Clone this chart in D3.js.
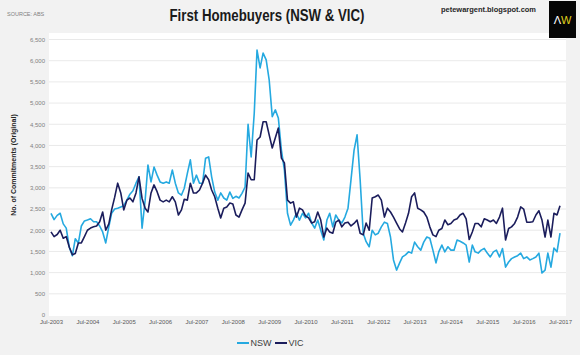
<!DOCTYPE html>
<html><head><meta charset="utf-8">
<script src="https://cdn.jsdelivr.net/npm/d3@7"></script>
<style>
html,body{margin:0;padding:0;background:#f2f2f2;}
svg{display:block;font-family:"Liberation Sans",Arial,sans-serif;}
</style></head>
<body><svg id="c" width="580" height="355"></svg>
<script>
// ---- data ----
const startMonth = new Date(2003, 6, 1);   // Jul-2003
const seriesNames = ["NSW", "VIC"];
const seriesColors = ["#25a9e0", "#1b1d5c"];
const yTicks = [0,500,1000,1500,2000,2500,3000,3500,4000,4500,5000,5500,6000,6500];
const xTickLabels = ["Jul-2003","Jul-2004","Jul-2005","Jul-2006","Jul-2007","Jul-2008","Jul-2009","Jul-2010","Jul-2011","Jul-2012","Jul-2013","Jul-2014","Jul-2015","Jul-2016","Jul-2017"];
const nsw = [
2400,2250,2350,2400,2150,2050,1600,1400,1800,1700,2100,2220,
2240,2270,2200,2200,2100,1960,1700,2080,2400,2500,2520,2550,
2580,2710,2850,2930,3110,3260,2050,2710,3540,3140,3490,3300,
3140,3110,3140,3110,3420,3110,2880,2830,2990,3340,3660,3110,
3300,3110,3110,3700,3730,3260,2900,2710,2880,2760,2710,2900,
2750,2800,2760,2870,3020,4500,3730,4760,6250,5830,6180,6020,
5550,4680,4840,4650,3890,3420,2400,2120,2240,2400,2240,2400,
2290,2400,2170,2050,2240,2000,1770,2240,2400,2080,2360,2240,
2170,2310,2520,3190,3890,4250,3190,1930,1730,1610,2000,1890,
1930,2080,2190,2160,1840,1300,1060,1230,1370,1420,1490,1460,
1720,1610,1530,1720,1840,1810,1530,1230,1490,1650,1490,1610,
1530,1530,1770,1740,1700,1650,1250,1650,1490,1460,1530,1570,
1460,1370,1490,1530,1370,1570,1130,1250,1330,1370,1400,1460,
1330,1370,1300,1330,1370,1460,990,1060,1460,1130,1580,1490,
1930];
const vic = [
1960,1850,1900,2000,1810,1850,1600,1420,1450,1700,1700,1850,
2000,2050,2080,2100,2200,2430,2000,2150,2480,2780,3110,2880,
2480,2710,2760,2670,2880,3260,2750,2520,2430,2880,3070,2910,
2710,2670,2710,2670,2790,2670,2360,2480,2730,2710,3110,2880,
2880,2950,3110,3300,3190,2950,2790,2520,2290,2520,2550,2640,
2620,2360,2310,2480,2640,3350,3190,3190,4130,4200,4560,4560,
4250,3940,4180,4410,3700,3590,2710,2640,2670,2310,2520,2480,
2340,2290,2170,2200,2430,2240,1840,2050,1960,1930,2190,2240,
2080,2170,2190,2100,2160,2240,1930,1890,2170,2000,2760,2790,
2830,2710,2310,2520,2430,2310,2170,2030,1960,2170,2400,2790,
2880,2520,2480,2430,2310,2080,1890,1850,2000,2040,2240,2130,
2160,2240,2270,2360,2400,2270,1780,1960,2160,2160,2080,2270,
2240,2200,2240,2160,2310,2520,1770,2040,2080,2160,2310,2550,
2500,2190,2190,2200,2360,2460,2240,1840,2240,1840,2400,2360,
2580];

// ---- chart ----
const months = d3.timeMonth.range(startMonth, d3.timeMonth.offset(startMonth, nsw.length));
const svg = d3.select("#c");
const W = 580, H = 355;
svg.append("rect").attr("width", W).attr("height", H).attr("fill", "#f2f2f2");

const plot = {l: 49, r: 566, t: 33, b: 316};
svg.append("rect").attr("x", plot.l).attr("y", plot.t)
  .attr("width", plot.r - plot.l).attr("height", plot.b - plot.t).attr("fill", "#ffffff");

const x = d3.scaleTime().domain([months[0], months[months.length - 1]]).range([51, 560]);
const y = d3.scaleLinear().domain([0, 6500]).range([315, 39.5]);

// gridlines
svg.append("g").selectAll("line").data(yTicks.filter(v => v > 0)).join("line")
  .attr("x1", plot.l).attr("x2", plot.r)
  .attr("y1", d => y(d)).attr("y2", d => y(d))
  .attr("stroke", "#e3e3e3").attr("stroke-width", 0.8);

// y axis labels
const yAxis = d3.axisLeft(y).tickValues(yTicks).tickSize(0).tickPadding(0)
  .tickFormat(d3.format(","));
const gy = svg.append("g").attr("transform", "translate(45,0)").call(yAxis);
gy.select(".domain").remove();
gy.selectAll("text").attr("font-size", 6).attr("fill", "#808080")
  .attr("font-family", "'Liberation Sans', Arial, sans-serif");

// x axis labels
const xTickDates = xTickLabels.map((s, i) => d3.timeYear.offset(startMonth, i));
const xAxis = d3.axisBottom(x).tickValues(xTickDates).tickSize(0).tickPadding(0)
  .tickFormat((d, i) => xTickLabels[i]);
const gx = svg.append("g").attr("transform", "translate(0,320)").call(xAxis);
gx.select(".domain").remove();
gx.selectAll("text").attr("font-size", 6).attr("fill", "#595959")
  .attr("font-family", "'Liberation Sans', Arial, sans-serif");

// lines
const line = d3.line().x((d, i) => x(months[i])).y(d => y(d));
[nsw, vic].forEach((s, k) => {
  svg.append("path").datum(s).attr("d", line)
    .attr("fill", "none").attr("stroke", seriesColors[k])
    .attr("stroke-width", 1.6).attr("stroke-linejoin", "round");
});

// titles
svg.append("text").attr("x", 267).attr("y", 21).attr("text-anchor", "middle")
  .attr("font-size", 17).attr("font-weight", "bold").attr("fill", "#1a1a1a")
  .attr("textLength", 195).attr("lengthAdjust", "spacingAndGlyphs")
  .text("First Homebuyers (NSW & VIC)");
svg.append("text").attr("x", 7).attr("y", 16).attr("font-size", 5.5).attr("fill", "#7f7f7f")
  .text("SOURCE: ABS");
svg.append("text").attr("x", 441).attr("y", 12).attr("font-size", 8).attr("font-weight", "bold")
  .attr("fill", "#262626").attr("textLength", 95).attr("lengthAdjust", "spacingAndGlyphs")
  .text("petewargent.blogspot.com");

// logo
svg.append("rect").attr("x", 549).attr("y", 1).attr("width", 27).attr("height", 37).attr("fill", "#050505");
const logo = svg.append("text").attr("x", 562.5).attr("y", 24).attr("text-anchor", "middle")
  .attr("font-size", 11);
logo.append("tspan").attr("fill", "#ffffff").text("Λ");
logo.append("tspan").attr("fill", "#e0d21c").text("W");

// y axis title
svg.append("text").attr("transform", "translate(16,165) rotate(-90)")
  .attr("text-anchor", "middle").attr("font-size", 7).attr("font-weight", "bold")
  .attr("fill", "#262626").text("No. of Commitments (Original)");

// legend
const leg = svg.append("g").attr("transform", "translate(237,343)");
const legX = [0, 38];
seriesNames.forEach((n, k) => {
  const g = leg.append("g").attr("transform", `translate(${legX[k]},0)`);
  g.append("line").attr("x1", 0).attr("x2", 12).attr("y1", 0).attr("y2", 0)
    .attr("stroke", seriesColors[k]).attr("stroke-width", 2);
  g.append("text").attr("x", 13.5).attr("y", 3.2).attr("font-size", 9).attr("fill", "#404040").text(n);
});
</script>
</body></html>
